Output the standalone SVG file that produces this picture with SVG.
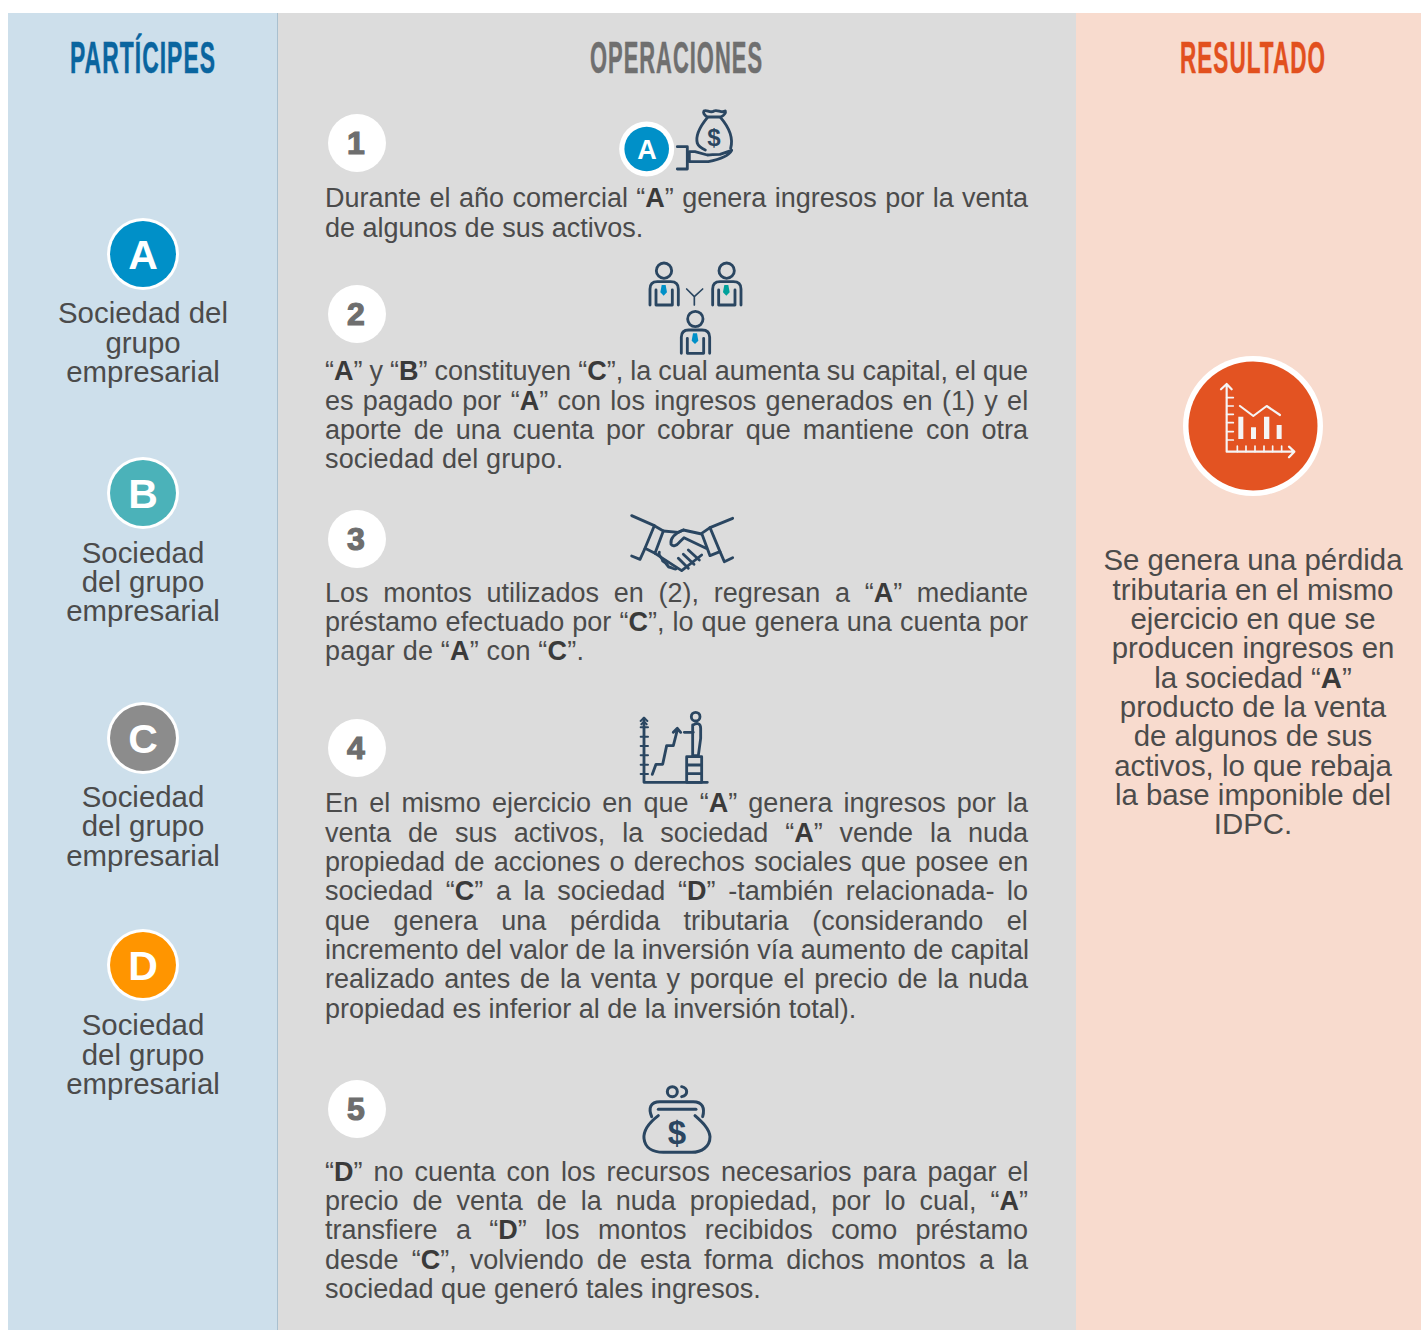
<svg xmlns="http://www.w3.org/2000/svg" xmlns:xlink="http://www.w3.org/1999/xlink" width="1421" height="1330" viewBox="0 0 1421 1330">
<style>
.t{font-family:"Liberation Sans",Arial,sans-serif;font-size:27px;fill:#4b4b4b}
.c{font-family:"Liberation Sans",Arial,sans-serif;font-size:29.4px;fill:#4b4b4b;text-anchor:middle}
.t tspan,.c tspan{font-weight:700;fill:#3a3a3a}
.h{font-family:"Liberation Sans",Arial,sans-serif;font-size:44px;font-weight:700;text-anchor:start;letter-spacing:2px;stroke-width:.5px}
.l{font-family:"Liberation Sans",Arial,sans-serif;font-weight:700;fill:#fff;text-anchor:middle}
.n{font-family:"Liberation Sans",Arial,sans-serif;font-size:32px;font-weight:700;fill:#6e6e6e;stroke:#6e6e6e;stroke-width:1.2;text-anchor:middle}
.i{fill:none;stroke:#2a4661;stroke-width:8.5;stroke-linecap:round;stroke-linejoin:round}
.w{fill:none;stroke:#f5f5f5;stroke-width:6.5;stroke-linecap:round;stroke-linejoin:round}
.d{font-family:"Liberation Sans",Arial,sans-serif;font-weight:700;fill:#2a4661;text-anchor:middle}
.ring{fill:#fff}
</style>
<defs>
<g id="person">
<circle class="i" cx="102" cy="47" r="23"/>
<path class="i" d="M60 150V102Q60 80 82 80H122Q145 80 145 102V150"/>
<path class="i" d="M78 105V150H127V105"/>
</g>
</defs>

<rect x="8" y="13" width="270" height="1317" fill="#cddfeb"/>
<rect x="277" y="13" width="1" height="1317" fill="#a9c0cf"/>
<rect x="278" y="13" width="798" height="1317" fill="#dcdcdc"/>
<rect x="1076" y="13" width="345" height="1317" fill="#f8dbce"/>

<g id="titles">
<text class="h" x="70" y="72.5" fill="#0a659f" stroke="#0a659f" textLength="146" lengthAdjust="spacingAndGlyphs">PARTÍCIPES</text>
<text class="h" x="590" y="72.5" fill="#6f6f6f" stroke="#6f6f6f" textLength="173" lengthAdjust="spacingAndGlyphs">OPERACIONES</text>
<text class="h" x="1180" y="72.5" fill="#e2501e" stroke="#e2501e" textLength="146" lengthAdjust="spacingAndGlyphs">RESULTADO</text>
</g>

<g id="participante-a">
<circle class="ring" cx="143" cy="254" r="36"/><circle cx="143" cy="254" r="33" fill="#0090c8"/>
<text class="l" x="143" y="269" font-size="41">A</text>
<text class="c" x="143" y="323">Sociedad del</text><text class="c" x="143" y="353">grupo</text><text class="c" x="143" y="382">empresarial</text>
</g>
<g id="participante-b">
<circle class="ring" cx="143" cy="493" r="36"/><circle cx="143" cy="493" r="33" fill="#4bb2b9"/>
<text class="l" x="143" y="508" font-size="41">B</text>
<text class="c" x="143" y="563">Sociedad</text><text class="c" x="143" y="592">del grupo</text><text class="c" x="143" y="621">empresarial</text>
</g>
<g id="participante-c">
<circle class="ring" cx="143" cy="738" r="36"/><circle cx="143" cy="738" r="33" fill="#8c8c8c"/>
<text class="l" x="143" y="753" font-size="41">C</text>
<text class="c" x="143" y="807">Sociedad</text><text class="c" x="143" y="836">del grupo</text><text class="c" x="143" y="866">empresarial</text>
</g>
<g id="participante-d">
<circle class="ring" cx="143" cy="965" r="36"/><circle cx="143" cy="965" r="33" fill="#ff9500"/>
<text class="l" x="143" y="980" font-size="41">D</text>
<text class="c" x="143" y="1035">Sociedad</text><text class="c" x="143" y="1065">del grupo</text><text class="c" x="143" y="1094">empresarial</text>
</g>

<g id="operacion-1">
<circle class="ring" cx="357" cy="143" r="29"/><text class="n" x="356" y="153.5">1</text>
<circle class="ring" cx="646.7" cy="149" r="27.5"/><circle cx="646.7" cy="149" r="22.3" fill="#0090c8"/>
<text class="l" x="647" y="159" font-size="27">A</text>
<g transform="translate(600 95) scale(.3333)">
<path class="i" d="M232 155H262V222H232"/>
<path class="i" d="M268 170H285L322 180C335 178 345 178 360 178L395 166C385 185 350 195 325 200H268Z"/>
<path class="i" d="M312 48C320 42 330 56 342 48C352 42 365 56 376 48C378 55 370 62 362 66H322C316 62 308 55 312 48Z"/>
<path class="i" d="M322 68C300 95 285 120 292 145C296 156 305 160 316 165M362 68C385 95 402 125 392 160"/>
</g>
<text class="d" x="714" y="146" font-size="24">$</text>
<text class="t" x="325" y="207" word-spacing=".92">Durante el año comercial “<tspan>A</tspan>” genera ingresos por la venta</text>
<text class="t" x="325" y="237">de algunos de sus activos.</text>
</g>

<g id="operacion-2">
<circle class="ring" cx="357" cy="314" r="29"/><text class="n" x="356" y="324.5">2</text>
<g transform="translate(630 255) scale(.3333)">
<use xlink:href="#person" href="#person"/>
<use xlink:href="#person" href="#person" x="188"/>
<use xlink:href="#person" href="#person" x="94" y="145"/>
<path d="M95 90H107L111 112L101 122L91 112Z" fill="#0090c8"/>
<path d="M283 90H295L299 112L289 122L279 112Z" fill="#00a19b"/>
<path d="M189 235H201L205 257L195 267L185 257Z" fill="#0090c8"/>
<path class="i" style="stroke-width:5" d="M170 102L193 125L218 102M193 125V150"/>
</g>
<text class="t" x="325" y="380" word-spacing="-.48">“<tspan>A</tspan>” y “<tspan>B</tspan>” constituyen “<tspan>C</tspan>”, la cual aumenta su capital, el que</text>
<text class="t" x="325" y="410" word-spacing="1.84">es pagado por “<tspan>A</tspan>” con los ingresos generados en (1) y el</text>
<text class="t" x="325" y="439" word-spacing="4.57">aporte de una cuenta por cobrar que mantiene con otra</text>
<text class="t" x="325" y="468" letter-spacing=".15">sociedad del grupo.</text>
</g>

<g id="operacion-3">
<circle class="ring" cx="357" cy="539" r="29"/><text class="n" x="356" y="549.5">3</text>
<g transform="translate(620 505) scale(.3333)">
<path class="i" d="M35 32L103 62L75 130L60 163L35 153"/>
<path class="i" d="M103 62L130 78L105 145L75 130"/>
<path class="i" d="M338 40L270 68L300 140L313 170L338 158"/>
<path class="i" d="M270 68L245 85L270 152L300 140"/>
<path class="i" d="M130 78L175 82L190 75L245 87"/>
<path class="i" d="M190 75C165 85 150 100 153 118C158 126 170 122 178 112L192 98L258 130"/>
<path class="i" d="M105 145L185 197L245 150"/>
<path class="i" d="M118 142C112 152 128 158 128 168C136 172 142 178 146 186C154 186 160 194 168 192"/>
<path class="i" d="M175 160L205 190M190 148L222 178M205 135L238 165"/>
</g>
<text class="t" x="325" y="602" word-spacing="7.2">Los montos utilizados en (2), regresan a “<tspan>A</tspan>” mediante</text>
<text class="t" x="325" y="631" word-spacing=".57">préstamo efectuado por “<tspan>C</tspan>”, lo que genera una cuenta por</text>
<text class="t" x="325" y="660" letter-spacing=".19">pagar de “<tspan>A</tspan>” con “<tspan>C</tspan>”.</text>
</g>

<g id="operacion-4">
<circle class="ring" cx="357" cy="748" r="29"/><text class="n" x="356" y="758.5">4</text>
<g transform="translate(630 705) scale(.3333)">
<path class="i" d="M42 40V232H232"/>
<path class="i" style="stroke-width:6" d="M32 48L42 38L52 48M34 58L42 50L50 58M32 67H54M32 95H54M32 123H54M32 151H54M32 179H54M32 207H54"/>
<path class="i" d="M67 208L78 178H98L110 122H130L142 75M130 82L142 70L152 82"/>
<circle class="i" cx="197" cy="35" r="13"/>
<path class="i" d="M163 82H190M190 60C200 52 212 55 212 70V100L205 152H188V60"/>
<path class="i" d="M170 155H215V232H170ZM170 180H215M170 206H215"/>
</g>
<text class="t" x="325" y="812" word-spacing="3.67">En el mismo ejercicio en que “<tspan>A</tspan>” genera ingresos por la</text>
<text class="t" x="325" y="842" word-spacing="9.4">venta de sus activos, la sociedad “<tspan>A</tspan>” vende la nuda</text>
<text class="t" x="325" y="871" word-spacing="1.77">propiedad de acciones o derechos sociales que posee en</text>
<text class="t" x="325" y="900" word-spacing="5.16">sociedad “<tspan>C</tspan>” a la sociedad “<tspan>D</tspan>” -también relacionada- lo</text>
<text class="t" x="325" y="930" word-spacing="16.07">que genera una pérdida tributaria (considerando el</text>
<text class="t" x="325" y="959" word-spacing="0">incremento del valor de la inversión vía aumento de capital</text>
<text class="t" x="325" y="988" word-spacing="2.24">realizado antes de la venta y porque el precio de la nuda</text>
<text class="t" x="325" y="1018">propiedad es inferior al de la inversión total).</text>
</g>

<g id="operacion-5">
<circle class="ring" cx="357" cy="1109" r="29"/><text class="n" x="356" y="1119.5">5</text>
<g transform="translate(630 1075) scale(.3333)">
<circle class="i" style="stroke-width:9" cx="127" cy="50" r="15"/>
<path class="i" style="stroke-width:9" d="M155 35C175 40 175 60 155 65"/>
<path class="i" style="stroke-width:9" d="M65 125C55 100 60 80 90 80H190C218 80 225 100 218 125"/>
<path class="i" style="stroke-width:9" d="M85 103H198"/>
<path class="i" style="stroke-width:9" d="M85 122C55 145 40 165 42 190C45 220 70 232 100 232H185C215 232 240 215 240 185C238 160 215 140 195 122"/>
</g>
<text class="d" x="677" y="1144" font-size="33">$</text>
<text class="t" x="325" y="1181" word-spacing="3.45">“<tspan>D</tspan>” no cuenta con los recursos necesarios para pagar el</text>
<text class="t" x="325" y="1210" word-spacing="6.51">precio de venta de la nuda propiedad, por lo cual, “<tspan>A</tspan>”</text>
<text class="t" x="325" y="1239" word-spacing="10.83">transfiere a “<tspan>D</tspan>” los montos recibidos como préstamo</text>
<text class="t" x="325" y="1269" word-spacing="5.58">desde “<tspan>C</tspan>”, volviendo de esta forma dichos montos a la</text>
<text class="t" x="325" y="1298" letter-spacing=".06">sociedad que generó tales ingresos.</text>
</g>

<g id="resultado">
<circle class="ring" cx="1253" cy="426" r="70"/><circle cx="1253" cy="426" r="64.5" fill="#e35322"/>
<g transform="translate(1175 350) scale(.3333)">
<path class="w" d="M155 105V305H355M138 118L155 102L170 118M342 290L358 305L342 322"/>
<path class="w" style="stroke-width:5" d="M155 143H175M155 168H175M155 193H175M155 218H175M155 245H175M155 270H175M187 305V288M213 305V288M240 305V288M267 305V288M293 305V288M320 305V288"/>
<path class="w" d="M195 168L235 198L275 168L315 195"/>
<path fill="#f5f5f5" d="M190 200H205V267H190ZM228 232H243V267H228ZM267 200H283V267H267ZM305 225H320V267H305Z"/>
</g>
<text class="c" x="1253" y="570">Se genera una pérdida</text>
<text class="c" x="1253" y="600">tributaria en el mismo</text>
<text class="c" x="1253" y="629">ejercicio en que se</text>
<text class="c" x="1253" y="658">producen ingresos en</text>
<text class="c" x="1253" y="688">la sociedad “<tspan>A</tspan>”</text>
<text class="c" x="1253" y="717">producto de la venta</text>
<text class="c" x="1253" y="746">de algunos de sus</text>
<text class="c" x="1253" y="776">activos, lo que rebaja</text>
<text class="c" x="1253" y="805">la base imponible del</text>
<text class="c" x="1253" y="834">IDPC.</text>
</g>
<g id="connectors"/>
</svg>
